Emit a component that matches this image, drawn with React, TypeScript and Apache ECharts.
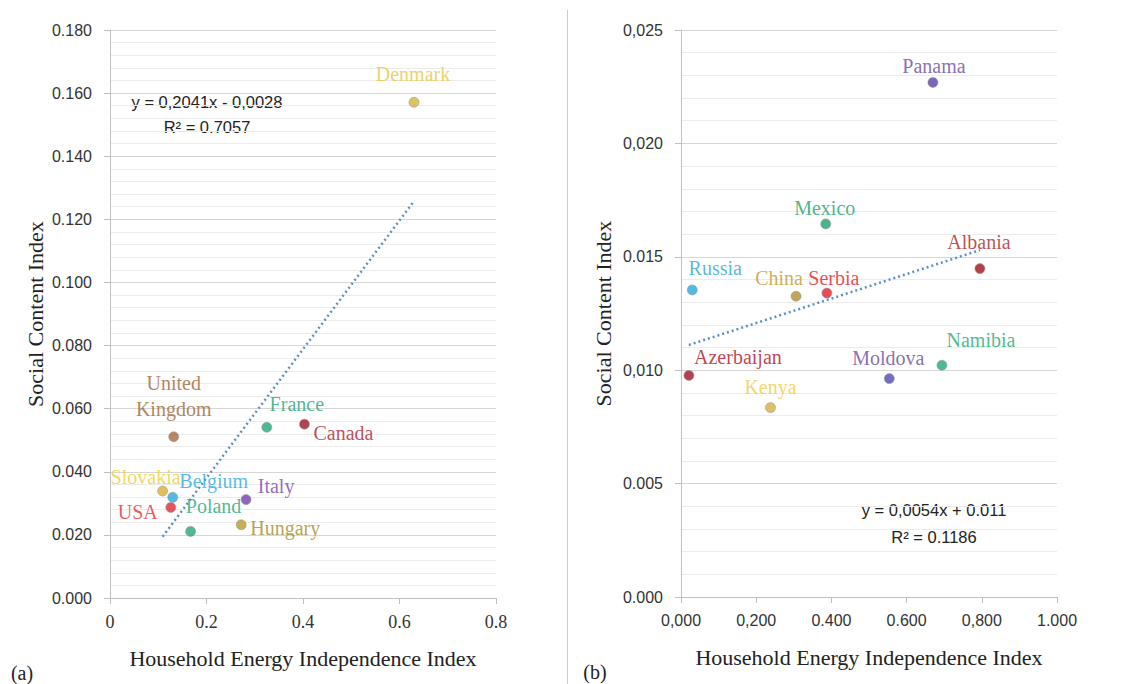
import React, { useEffect, useRef } from "react";
import * as echarts from "echarts";

// ---- Panel (a) data ----
const aCountries = ["Denmark", "United\nKingdom", "France", "Canada", "Slovakia", "Belgium", "USA", "Italy", "Poland", "Hungary"];
const aX = [0.630, 0.132, 0.325, 0.403, 0.109, 0.130, 0.126, 0.282, 0.167, 0.272];
const aY = [0.1571, 0.0511, 0.0541, 0.0551, 0.0339, 0.0319, 0.0287, 0.0312, 0.0211, 0.0232];
const aDotColors = ["#D6B13A", "#A66A3E", "#1FA67A", "#9C1420", "#D8B030", "#2AA9E0", "#DC2A36", "#7440A8", "#22A878", "#B59A2C"];
const aLabelColors = ["#EBC53E", "#9E6434", "#1EA57A", "#B0202C", "#F2CD2E", "#2AA9E0", "#E0303A", "#7A45A8", "#22A878", "#A08A2A"];
const aLabelOffsets = [[-1, -28], [0, -41], [30, -23], [39, 9], [-17, -14], [41, -16], [-33, 5], [30, -14], [23, -25], [44, 3]];
const aSlope = 0.2041;
const aIntercept = -0.0028;
const aEq = "y = 0,2041x - 0,0028";
const aR2 = "R\u00B2 = 0.7057";
const aXTicks = ["0", "0.2", "0.4", "0.6", "0.8"];
const aYTicks = ["0.000", "0.020", "0.040", "0.060", "0.080", "0.100", "0.120", "0.140", "0.160", "0.180"];

// ---- Panel (b) data ----
const bCountries = ["Panama", "Mexico", "Albania", "Russia", "China", "Serbia", "Azerbaijan", "Kenya", "Moldova", "Namibia"];
const bX = [0.670, 0.385, 0.795, 0.030, 0.306, 0.388, 0.021, 0.238, 0.554, 0.694];
const bY = [0.02269, 0.01645, 0.01448, 0.01354, 0.01326, 0.01340, 0.00977, 0.00835, 0.00963, 0.01022];
const bDotColors = ["#5A40A8", "#20A070", "#A0101C", "#28A8DC", "#B0902E", "#E0202C", "#A01424", "#D8B038", "#5048B0", "#20A878"];
const bLabelColors = ["#6A4AA0", "#20A070", "#B01E28", "#28A8D8", "#C09A2A", "#E0202C", "#B0101E", "#F0CC40", "#6A4AA0", "#20A878"];
const bLabelOffsets = [[1, -16], [-1, -16], [-1, -27], [23, -22], [-17, -18], [7, -15], [49, -18], [0, -21], [-1, -21], [39, -25]];
const bSlope = 0.0054;
const bIntercept = 0.011;
const bEq = "y = 0,0054x + 0.011";
const bR2 = "R\u00B2 = 0.1186";
const bXTicks = ["0,000", "0,200", "0.400", "0.600", "0,800", "1.000"];
const bYTicks = ["0.000", "0.005", "0,010", "0.015", "0,020", "0,025"];

const xTitle = "Household Energy Independence Index";
const yTitle = "Social Content Index";

const SERIF = "'Liberation Serif', 'Times New Roman', serif";
const SANS = "'Liberation Sans', Arial, sans-serif";

function scatterData(xs: number[], ys: number[], names: string[], dots: string[], lbls: string[], offs: number[][]) {
  return xs.map((x, i) => ({
    name: names[i],
    value: [x, ys[i]],
    itemStyle: { color: dots[i], borderColor: "rgba(150,150,150,0.7)", borderWidth: 1 },
    label: {
      show: true,
      formatter: names[i],
      position: "inside",
      offset: offs[i],
      color: lbls[i],
      fontFamily: SERIF,
      fontSize: 20,
      lineHeight: 26,
      textBorderWidth: 0,
      align: "center",
      verticalAlign: "middle",
    },
  }));
}

function trend(xs: number[], slope: number, intercept: number) {
  const lo = Math.min(...xs);
  const hi = Math.max(...xs);
  return [[lo, slope * lo + intercept], [hi, slope * hi + intercept]];
}

function xAxisCfg(grid: number, max: number, interval: number, ticks: string[], font: string, size: number) {
  return {
    type: "value",
    gridIndex: grid,
    min: 0,
    max,
    interval,
    name: xTitle,
    nameLocation: "middle",
    nameGap: 49,
    nameTextStyle: { fontFamily: SERIF, fontSize: 22, color: "#222" },
    axisLine: { show: true, lineStyle: { color: "#bfbfbf", width: 1 } },
    axisTick: { show: true, length: 6, lineStyle: { color: "#bfbfbf" } },
    splitLine: { show: false },
    axisLabel: {
      margin: 15,
      fontFamily: font,
      fontSize: size,
      color: "#333",
      formatter: (v: number) => ticks[Math.round(v / interval)] ?? "",
    },
  };
}

function yAxisCfg(grid: number, max: number, interval: number, ticks: string[], gap: number) {
  return {
    type: "value",
    gridIndex: grid,
    min: 0,
    max,
    interval,
    name: yTitle,
    nameLocation: "middle",
    nameGap: gap,
    nameRotate: 90,
    nameTextStyle: { fontFamily: SERIF, fontSize: 22, color: "#222" },
    axisLine: { show: true, lineStyle: { color: "#bfbfbf", width: 1 } },
    axisTick: { show: true, length: 6, lineStyle: { color: "#bfbfbf" } },
    splitLine: { show: true, lineStyle: { color: "#d6d6d6", width: 1 } },
    minorTick: { show: false, splitNumber: 5 },
    minorSplitLine: { show: true, lineStyle: { color: "#ececec", width: 1 } },
    axisLabel: {
      margin: 18,
      fontFamily: SANS,
      fontSize: 16,
      color: "#333",
      formatter: (v: number) => ticks[Math.round(v / interval)] ?? "",
    },
  };
}

export default function App() {
  const ref = useRef<HTMLDivElement>(null);
  useEffect(() => {
    if (!ref.current) return;
    const chart = echarts.init(ref.current, null, { renderer: "svg" });
    const option = {
      animation: false,
      backgroundColor: "#fff",
      grid: [
        { left: 110, top: 30, width: 386, height: 568 },
        { left: 681, top: 30, width: 376, height: 567 },
      ],
      xAxis: [
        xAxisCfg(0, 0.8, 0.2, aXTicks, SERIF, 18),
        xAxisCfg(1, 1.0, 0.2, bXTicks, SANS, 16),
      ],
      yAxis: [
        yAxisCfg(0, 0.18, 0.02, aYTicks, 64),
        yAxisCfg(1, 0.025, 0.005, bYTicks, 67),
      ],
      series: [
        {
          type: "line",
          xAxisIndex: 0,
          yAxisIndex: 0,
          data: trend(aX, aSlope, aIntercept),
          showSymbol: false,
          silent: true,
          z: 1,
          lineStyle: { color: "#5B8FC4", width: 2.5, type: [2, 3] },
        },
        {
          type: "scatter",
          xAxisIndex: 0,
          yAxisIndex: 0,
          symbolSize: 10,
          z: 3,
          data: scatterData(aX, aY, aCountries, aDotColors, aLabelColors, aLabelOffsets),
        },
        {
          type: "line",
          xAxisIndex: 1,
          yAxisIndex: 1,
          data: trend(bX, bSlope, bIntercept),
          showSymbol: false,
          silent: true,
          z: 1,
          lineStyle: { color: "#5B8FC4", width: 2.5, type: [2, 3] },
        },
        {
          type: "scatter",
          xAxisIndex: 1,
          yAxisIndex: 1,
          symbolSize: 10,
          z: 3,
          data: scatterData(bX, bY, bCountries, bDotColors, bLabelColors, bLabelOffsets),
        },
      ],
      graphic: [
        { type: "line", shape: { x1: 567.5, y1: 10, x2: 567.5, y2: 684 }, style: { stroke: "#cccccc", lineWidth: 1 } },
        { type: "text", x: 207, y: 102, style: { text: aEq, font: `16.5px ${SANS}`, fill: "#222", textAlign: "center", textVerticalAlign: "middle" } },
        { type: "text", x: 207, y: 127, style: { text: aR2, font: `16.5px ${SANS}`, fill: "#222", textAlign: "center", textVerticalAlign: "middle" } },
        { type: "text", x: 934, y: 510, style: { text: bEq, font: `16.5px ${SANS}`, fill: "#222", textAlign: "center", textVerticalAlign: "middle" } },
        { type: "text", x: 934, y: 537, style: { text: bR2, font: `16.5px ${SANS}`, fill: "#222", textAlign: "center", textVerticalAlign: "middle" } },
        { type: "text", x: 22, y: 673, style: { text: "(a)", font: `20px ${SERIF}`, fill: "#222", textAlign: "center", textVerticalAlign: "middle" } },
        { type: "text", x: 595, y: 672, style: { text: "(b)", font: `20px ${SERIF}`, fill: "#222", textAlign: "center", textVerticalAlign: "middle" } },
      ],
    };
    chart.setOption(option as any);
    return () => chart.dispose();
  }, []);
  return <div ref={ref} style={{ position: "fixed", left: 0, top: 0, width: 1126, height: 684 }} />;
}
